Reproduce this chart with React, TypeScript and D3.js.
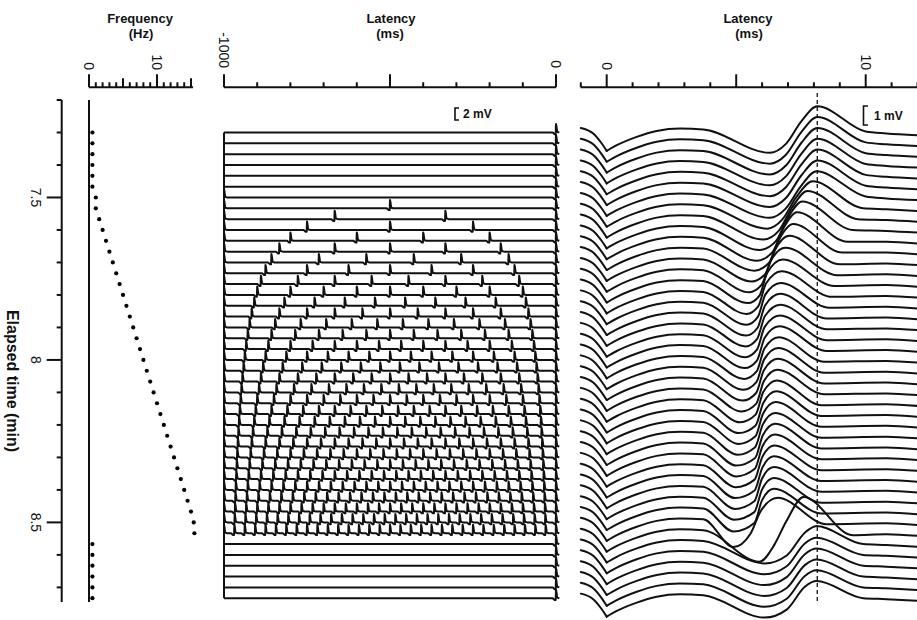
import React from 'react'
import * as d3 from 'd3'

// one sweep every 2 s, seconds since start of recording
const sweepSec = [
  438, 440, 442, 444, 446, 448, 450, 452, 454, 456, 458,
  460, 462, 464, 466, 468, 470, 472, 474, 476, 478, 480,
  482, 484, 486, 488, 490, 492, 494, 496, 498, 500, 502,
  504, 506, 508, 510, 512, 514, 516, 518, 520, 522, 524,
]

// stimulation frequency plotted in the left panel (Hz)
const freqHz = [
  0.5, 0.5, 0.5, 0.5, 0.5, 0.5, 1, 1, 1.5, 2, 2.5,
  3, 3.5, 4, 4.5, 5, 5.5, 6, 6.5, 7, 7.5, 8,
  8.5, 9, 9.5, 10, 10.5, 11, 11.5, 12, 12.5, 13, 13.5,
  14, 14.5, 15, 15.4, 15.5, 0.5, 0.5, 0.5, 0.5, 0.5, 0.5,
]

// pulses per second seen in the 1000 ms window of the middle panel
const pulseRate = [
  0.5, 0.5, 0.5, 0.5, 0.5, 0.5, 1, 2, 3, 4, 5,
  6, 7, 8, 9, 10, 11, 12, 13, 14, 15, 16,
  17, 18, 19, 20, 21, 22, 23, 24, 25, 26, 27,
  28, 29, 30, 31, 32, 0.5, 0.5, 0.5, 0.5, 0.5, 0.5,
]

// late wave of each sweep (right panel): trough, steep rising edge, peak, recovery
const troughMs = [
  6.3, 6.3, 6.3, 6.3, 6.3, 6.3, 6.3, 6.2, 6.05, 5.9, 5.8,
  5.7, 5.6, 5.5, 5.45, 5.4, 5.4, 5.38, 5.36, 5.35, 5.33, 5.3,
  5.28, 5.25, 5.2, 5.15, 5.1, 5.1, 5.05, 5.0, 5.0, 4.98, 4.95,
  4.95, 4.92, 4.9, 4.9, 5.9, 6.1, 6.1, 6.1, 6.1, 6.1, 6.1,
]
const troughMv = [
  -1.07, -1.07, -1.07, -1.07, -1.07, -1.07, -1.07, -1.07, -1.07, -1.05, -1.05,
  -1.0, -1.0, -1.0, -1.0, -1.0, -1.0, -1.0, -1.0, -1.0, -1.0, -1.0,
  -1.0, -1.0, -1.0, -1.0, -1.0, -1.0, -1.0, -1.0, -1.0, -1.0, -1.0,
  -1.0, -1.0, -1.05, -1.3, -1.5, -1.02, -1.02, -1.02, -1.02, -1.02, -1.02,
]
const riseMs = [
  7.22, 7.22, 7.22, 7.22, 7.22, 7.22, 7.2, 7.05, 6.9, 6.75, 6.6,
  6.45, 6.3, 6.15, 6.05, 6.0, 5.98, 5.97, 5.96, 5.95, 5.95, 5.94,
  5.93, 5.92, 5.92, 5.9, 5.9, 5.89, 5.88, 5.88, 5.87, 5.86, 5.86,
  5.85, 5.85, 5.85, 5.75, 6.7, 7.3, 7.3, 7.3, 7.3, 7.3, 7.3,
]
const riseWidthMs = [
  0.6, 0.6, 0.6, 0.6, 0.6, 0.6, 0.6, 0.55, 0.5, 0.45, 0.4,
  0.38, 0.35, 0.33, 0.3, 0.3, 0.3, 0.3, 0.3, 0.3, 0.3, 0.3,
  0.3, 0.3, 0.3, 0.3, 0.3, 0.3, 0.3, 0.3, 0.3, 0.3, 0.3,
  0.3, 0.3, 0.3, 0.4, 0.45, 0.7, 0.7, 0.7, 0.7, 0.7, 0.7,
]
const peakMs = [
  8.13, 8.13, 8.13, 8.13, 8.13, 8.13, 8.1, 7.95, 7.75, 7.55, 7.35,
  7.2, 7.05, 6.9, 6.8, 6.75, 6.72, 6.7, 6.7, 6.68, 6.66, 6.64,
  6.62, 6.6, 6.58, 6.56, 6.54, 6.52, 6.5, 6.5, 6.48, 6.46, 6.45,
  6.45, 6.45, 6.45, 6.6, 7.6, 8.1, 8.1, 8.1, 8.1, 8.1, 8.1,
]
const peakMv = [
  1.38, 1.38, 1.38, 1.38, 1.38, 1.38, 1.38, 1.42, 1.48, 1.5, 1.5,
  1.45, 1.4, 1.35, 1.3, 1.25, 1.2, 1.2, 1.2, 1.2, 1.2, 1.2,
  1.2, 1.2, 1.2, 1.2, 1.2, 1.2, 1.2, 1.2, 1.2, 1.2, 1.2,
  1.2, 1.2, 1.2, 1.3, 1.9, 0.95, 0.9, 0.9, 0.9, 0.9, 0.9,
]
const recoverMs = [
  10.0, 10.0, 10.0, 10.0, 10.0, 10.0, 10.0, 9.9, 9.7, 9.5, 9.3,
  9.1, 9.0, 8.9, 8.8, 8.7, 8.6, 8.5, 8.5, 8.5, 8.5, 8.4,
  8.4, 8.4, 8.4, 8.3, 8.3, 8.3, 8.3, 8.3, 8.3, 8.3, 8.3,
  8.3, 8.3, 8.3, 8.5, 9.5, 9.9, 9.9, 9.9, 9.9, 9.9, 9.9,
]
const recoverMv = [
  0.05, 0.05, 0.05, 0.05, 0.05, 0.05, 0.05, 0.0, 0.0, 0.0, -0.05,
  -0.05, -0.1, -0.1, -0.1, -0.1, -0.1, -0.1, -0.1, -0.1, -0.1, -0.1,
  -0.1, -0.1, -0.1, -0.1, -0.1, -0.1, -0.1, -0.1, -0.1, -0.1, -0.1,
  -0.1, -0.1, -0.1, -0.1, -0.1, 0.0, 0.0, 0.0, 0.0, 0.0, 0.0,
]

// part of the evoked trace shared by all sweeps (ms, mV)
const artifactMs = [-1, -0.52, -0.19, 0]
const artifactMv = [0.24, -0.05, -0.58, -0.97]
const earlyMs = [0, 0.39, 1.16, 1.93, 2.83, 3.73]
const earlyMv = [-0.97, -0.67, -0.23, 0.08, 0.21, 0.16]
const tailMs = [10.8, 12]
const tailMv = [-0.05, -0.14]
const riseMv = 0.6

// action potential drawn at each pulse in the middle panel (ms from pulse, mV)
const spikeMs = [-10, -4, -1, 0, 1.2, 3.5, 10]
const spikeMv = [0, -0.3, -0.3, 1.4, 1.1, 0.1, 0]

const timeTicks = [7.2, 7.3, 7.4, 7.5, 7.6, 7.7, 7.8, 7.9, 8.0, 8.1, 8.2, 8.3, 8.4, 8.5, 8.6, 8.7]
const timeLabels = [7.5, 8, 8.5]
const freqTicks = [0, 1, 2, 3, 4, 5, 6, 7, 8, 9, 10, 11, 12, 13, 14, 15]
const freqLabels = [0, 10]
const midTicks = [-1000, -900, -800, -700, -600, -500, -400, -300, -200, -100, 0]
const midLabels = [-1000, 0]
const latTicks = [-1, 0, 1, 2, 3, 4, 5, 6, 7, 8, 9, 10, 11, 12]
const latLabels = [0, 10]
const markerMs = 8.13

const font = '"Liberation Sans", Arial, sans-serif'

export default function App() {
  const timeY = d3.scaleLinear().domain([7.2, 8.745]).range([100, 602])
  const rowY = sweepSec.map(s => timeY(s / 60))
  const freqX = d3.scaleLinear().domain([0, 10]).range([89, 157])
  const midX = d3.scaleLinear().domain([-1000, 0]).range([224, 556])
  const midMv = d3.scaleLinear().domain([0, 1]).range([0, 6])
  const latX = d3.scaleLinear().domain([0, 10]).range([606.7, 865.7])
  const latMv = d3.scaleLinear().domain([0, 1]).range([0, 19])
  const axisY = 87.3

  const midLine = (y0: number) =>
    d3.line<[number, number]>().x(d => midX(d[0])).y(d => y0 - midMv(d[1]))
  const latLine = (y0: number) =>
    d3.line<[number, number]>().x(d => latX(d[0])).y(d => y0 - latMv(d[1])).curve(d3.curveMonotoneX)

  const midPath = (i: number) => {
    const rate = pulseRate[i]
    const pulses: number[] = []
    for (let k = Math.floor(rate + 1e-6); k >= 0; k--) {
      const t = -k * 1000 / rate
      if (t >= -1000.5) pulses.push(t)
    }
    const pts: [number, number][] = [[-1000, 0]]
    pulses.forEach(t => {
      spikeMs.forEach((o, j) => {
        if (t + o >= -1000) pts.push([t + o, spikeMv[j]])
      })
    })
    return midLine(rowY[i])(pts) || ''
  }

  const latPaths = (i: number) => {
    const y0 = rowY[i]
    const pre: [number, number][] = artifactMs.map((t, j) => [t, artifactMv[j]])
    const post: [number, number][] = earlyMs.map((t, j) => [t, earlyMv[j]])
    post.push([troughMs[i], troughMv[i]])
    post.push([riseMs[i] - riseWidthMs[i] / 2, -riseMv])
    post.push([riseMs[i] + riseWidthMs[i] / 2, riseMv])
    post.push([peakMs[i], peakMv[i]])
    post.push([recoverMs[i], recoverMv[i]])
    tailMs.forEach((t, j) => { if (t > recoverMs[i] + 0.3) post.push([t, tailMv[j]]) })
    return [latLine(y0)(pre) || '', latLine(y0)(post) || '']
  }

  const tickLen = (major: boolean, mid = false) => (major ? 13 : mid ? 9 : 5)

  return (
    <svg width={917} height={620} style={{ position: 'absolute', left: 0, top: 0, background: '#fff' }}
      fontFamily={font}>
      <rect width={917} height={620} fill="#fff" />

      {/* titles */}
      <g fontWeight="bold" fontSize={13} textAnchor="middle" fill="#111">
        <text x={140} y={23}>Frequency</text>
        <text x={141} y={38}>(Hz)</text>
        <text x={391} y={23}>Latency</text>
        <text x={390} y={38}>(ms)</text>
        <text x={748} y={23}>Latency</text>
        <text x={749} y={38}>(ms)</text>
        <text transform={`translate(13,381) rotate(90)`} dy="0.35em" fontSize={16}>Elapsed time (min)</text>
      </g>

      {/* elapsed time axis */}
      <g stroke="#111" strokeWidth={2}>
        <line x1={61.7} x2={61.7} y1={timeY(7.2)} y2={602} />
        {timeTicks.map(t => {
          const major = timeLabels.some(l => Math.abs(l - t) < 1e-6)
          return <line key={t} x1={61.7} x2={61.7 - (major ? 15 : 5)} y1={timeY(t)} y2={timeY(t)} />
        })}
        <line x1={freqX(0)} x2={freqX(0)} y1={timeY(7.2)} y2={602} />
      </g>
      <g fontSize={14} fill="#111" textAnchor="middle">
        {timeLabels.map(t => (
          <text key={t} transform={`translate(36,${timeY(t)}) rotate(90)`} dy="0.35em">{String(t)}</text>
        ))}
      </g>

      {/* frequency axis */}
      <g stroke="#111" strokeWidth={2}>
        <line x1={freqX(0)} x2={freqX(15.3)} y1={axisY} y2={axisY} />
        {freqTicks.map(f => (
          <line key={f} x1={freqX(f)} x2={freqX(f)} y1={axisY} y2={axisY - tickLen(f % 10 === 0, f % 5 === 0)} />
        ))}
      </g>
      {freqLabels.map(f => (
        <text key={f} transform={`translate(${freqX(f)},70) rotate(90)`} dy="0.35em" textAnchor="end" fontSize={14} fill="#111">{String(f)}</text>
      ))}
      <g fill="#000">
        {freqHz.map((f, i) => <circle key={i} cx={freqX(f)} cy={rowY[i]} r={2.1} />)}
      </g>

      {/* middle panel: pulse trains */}
      <g stroke="#111" strokeWidth={2}>
        <line x1={midX(-1000)} x2={midX(0)} y1={axisY} y2={axisY} />
        {midTicks.map(t => (
          <line key={t} x1={midX(t)} x2={midX(t)} y1={axisY} y2={axisY - tickLen(t % 500 === 0)} />
        ))}
      </g>
      {midLabels.map(t => (
        <text key={t} transform={`translate(${midX(t)},68) rotate(90)`} dy="0.35em" textAnchor="end" fontSize={14} fill="#111">{String(t)}</text>
      ))}
      <g fill="none" stroke="#111" strokeWidth={2} strokeLinejoin="round">
        <line x1={midX(-1000)} x2={midX(-1000)} y1={rowY[0]} y2={rowY[rowY.length - 1]} />
        {sweepSec.map((_, i) => <path key={i} d={midPath(i)} />)}
      </g>
      <path d={`M${459},${108} H${455} V${108 + midMv(2)} H${459}`} fill="none" stroke="#111" strokeWidth={1.6} />
      <text x={463} y={118} fontSize={12} fontWeight="bold" fill="#111">2 mV</text>

      {/* right panel: evoked responses */}
      <g stroke="#111" strokeWidth={2}>
        <line x1={latX(-1)} x2={917} y1={axisY} y2={axisY} />
        {latTicks.map(t => (
          <line key={t} x1={latX(t)} x2={latX(t)} y1={axisY} y2={axisY - tickLen(t % 5 === 0)} />
        ))}
      </g>
      {latLabels.map(t => (
        <text key={t} transform={`translate(${latX(t)},70) rotate(90)`} dy="0.35em" textAnchor="end" fontSize={14} fill="#111">{String(t)}</text>
      ))}
      <g fill="none" stroke="#111" strokeWidth={2} strokeLinejoin="round" strokeLinecap="round">
        {sweepSec.map((_, i) => latPaths(i).map((d, k) => <path key={i + '-' + k} d={d} />))}
      </g>
      <line x1={latX(markerMs)} x2={latX(markerMs)} y1={93} y2={603} stroke="#111" strokeWidth={1.3} strokeDasharray="4 3" />
      <path d={`M${868},${106} H${863.5} V${106 + latMv(1)} H${868}`} fill="none" stroke="#111" strokeWidth={1.6} />
      <text x={874} y={120} fontSize={12} fontWeight="bold" fill="#111">1 mV</text>
    </svg>
  )
}
